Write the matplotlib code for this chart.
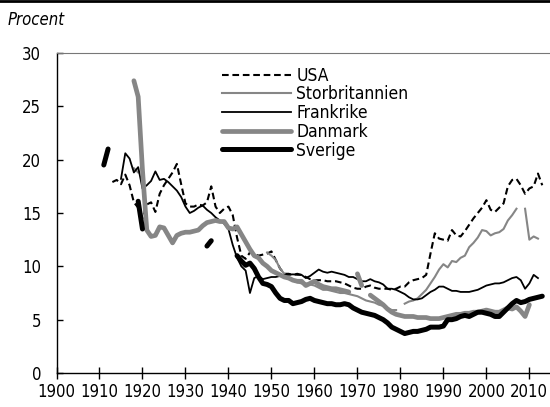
import matplotlib
matplotlib.use('Agg')
import matplotlib.pyplot as plt
from matplotlib.lines import Line2D
import numpy as np

# DejaVu Sans Condensed 近似原图的窄体字
plt.rcParams['font.family'] = ['DejaVu Sans']
plt.rcParams['font.stretch'] = 'condensed'

nan = np.nan

# ========================== 数据 ==========================
usa_years = list(range(1913, 2014))
usa = [17.9, 18.1, 17.7, 18.6, 17.6, 16.0, 15.5, 14.5, 15.8, 16.0,
       15.1, 16.8, 17.6, 18.2, 18.8, 19.6, 17.7, 15.9, 15.6, 15.6,
       15.8, 15.7, 16.0, 17.5, 15.6, 15.0, 15.4, 15.6, 14.8, 12.7,
       11.0, 10.7, 11.3, 11.2, 11.0, 11.1, 11.2, 11.4, 10.6, 9.8,
       9.3, 9.3, 9.2, 9.3, 9.2, 9.0, 8.8, 8.7, 8.7, 8.7,
       8.6, 8.6, 8.6, 8.5, 8.4, 8.2, 8.0, 7.9, 7.9, 8.1,
       8.2, 8.0, 7.9, 7.9, 7.9, 7.8, 7.9, 8.1, 8.1, 8.5,
       8.7, 8.8, 8.9, 9.2, 11.2, 13.1, 12.6, 12.5, 12.4, 13.4,
       12.9, 12.8, 13.3, 13.9, 14.5, 15.0, 15.5, 16.2, 15.3, 15.1,
       15.5, 15.9, 17.5, 18.1, 18.2, 17.6, 16.8, 17.3, 17.5, 18.7,
       17.6]

uk_years = [1918, 1919, 1920] + list(range(1949, 2013))
uk = [19.2, 18.8, nan,
      11.3, 11.0, 10.6, 9.8, 9.3, 8.9, 8.7, 8.5, 8.4, 8.4,
      8.3, 8.2, 8.0, 7.8, 7.8, 7.7, 7.6, 7.5, 7.5, 7.4,
      7.3, 7.2, 7.0, 6.8, 6.7, 6.6, 6.4, 6.3, 6.1, 5.9,
      5.9, nan, 6.5, 6.7, 6.8, 7.0, 7.4, 7.8, 8.4, 9.0,
      9.7, 10.2, 9.9, 10.5, 10.4, 10.8, 11.0, 11.8, 12.2, 12.7,
      13.4, 13.3, 12.9, 13.1, 13.2, 13.5, 14.3, 14.8, 15.4, nan,
      15.4, 12.5, 12.8, 12.6]

france_years = list(range(1915, 2013))
france = [18.2, 20.6, 20.1, 18.8, 19.3, 17.3, 17.6, 18.0, 18.9, 18.1,
          18.2, 17.9, 17.5, 17.1, 16.5, 15.6, 15.0, 15.2, 15.5, 15.7,
          15.3, 15.0, 14.6, 14.3, 14.0, 13.5, 12.0, 10.8, 10.0, 9.6,
          7.5, 8.9, 9.1, 8.8, 8.9, 9.0, 9.0, 9.1, 9.2, 9.2,
          9.25, 9.2, 9.2, 8.9, 9.1, 9.4, 9.7, 9.5, 9.4, 9.5,
          9.4, 9.3, 9.2, 9.0, 9.0, 8.8, 8.6, 8.6, 8.8, 8.6,
          8.5, 8.3, 7.9, 7.9, 7.8, 7.6, 7.4, 7.1, 6.9, 6.9,
          7.0, 7.3, 7.6, 7.8, 8.1, 8.1, 7.9, 7.7, 7.7, 7.6,
          7.6, 7.6, 7.7, 7.8, 8.0, 8.2, 8.3, 8.4, 8.4, 8.5,
          8.7, 8.9, 9.0, 8.7, 7.9, 8.4, 9.2, 8.9]

denmark_years = list(range(1918, 2011))
denmark = [27.4, 25.9, 19.0, 13.4, 12.8, 12.9, 13.7, 13.6, 12.9, 12.2,
           12.9, 13.1, 13.2, 13.2, 13.3, 13.4, 13.8, 14.1, 14.2, 14.3,
           14.2, 14.2, 13.6, 13.5, 13.7, 13.0, 12.3, 11.6, 11.0, 10.8,
           10.3, 10.0, 9.6, 9.4, 9.2, 9.0, 8.9, 8.7, 8.6, 8.6,
           8.2, 8.4, 8.6, 8.3, 8.1, 8.0, 7.9, 7.9, 7.8, 7.7,
           7.6, nan, 9.3, 8.2, nan, 7.3, 7.0, 6.7, 6.4, 6.0,
           5.7, 5.5, 5.4, 5.3, 5.3, 5.3, 5.2, 5.2, 5.2, 5.1,
           5.1, 5.1, 5.2, 5.3, 5.4, 5.5, 5.5, 5.6, 5.6, 5.7,
           5.7, 5.8, 5.9, 5.8, 5.7, 5.7, 5.9, 6.1, 6.0, 6.2,
           5.8, 5.3, 6.4]

sweden_years = [1911, 1912, 1913, 1919, 1920, 1921, 1935, 1936, 1937] + list(range(1942, 2014))
sweden = [19.5, 21.0, nan, 16.1, 13.5, nan, 11.9, 12.4, nan,
          11.0, 10.5, 10.1, 10.3, 9.8, 9.0, 8.4, 8.3, 8.1, 7.5,
          7.0, 6.8, 6.8, 6.5, 6.6, 6.7, 6.9, 7.0, 6.8, 6.7,
          6.6, 6.5, 6.5, 6.4, 6.4, 6.5, 6.4, 6.1, 5.9, 5.7,
          5.6, 5.5, 5.4, 5.2, 5.0, 4.7, 4.3, 4.1, 3.9, 3.7,
          3.8, 3.9, 3.9, 4.0, 4.1, 4.3, 4.3, 4.3, 4.4, 5.0,
          5.0, 5.1, 5.3, 5.4, 5.3, 5.5, 5.7, 5.7, 5.6, 5.5,
          5.3, 5.3, 5.7, 6.1, 6.5, 6.8, 6.6, 6.7, 6.9, 7.0,
          7.1, 7.2]

GRAY = '#868686'
FS = 12

fig = plt.figure(figsize=(5.5, 4.07), dpi=100)
ax = fig.add_axes([56.5 / 550, 34 / 407, 1 - 56.5 / 550, 320 / 407])

ax.plot(usa_years, usa, color='black', lw=1.5, dashes=(3.2, 1.8), label='USA')
ax.plot(uk_years, uk, color=GRAY, lw=1.5, label='Storbritannien')
ax.plot(france_years, france, color='black', lw=1.3, label='Frankrike')
ax.plot(denmark_years, denmark, color=GRAY, lw=3.4, solid_capstyle='round',
        solid_joinstyle='round', label='Danmark')
ax.plot(sweden_years, sweden, color='black', lw=3.6, solid_capstyle='round',
        solid_joinstyle='round', label='Sverige')

ax.set_xlim(1900, 2014.8)
ax.set_ylim(0, 30)
ax.set_xticks(range(1900, 2011, 10))
ax.set_yticks(range(0, 31, 5))

ax.spines['right'].set_visible(False)
ax.spines['top'].set_color('#777777')
ax.spines['left'].set_linewidth(1.0)
ax.spines['bottom'].set_linewidth(1.0)
ax.tick_params(axis='x', direction='inout', length=9, width=1.0, labelsize=FS, pad=3)
ax.tick_params(axis='y', direction='in', length=4.5, width=1.0, labelsize=FS, pad=11)

ax.legend(loc='upper left', bbox_to_anchor=(0.335, 0.957), frameon=False,
          fontsize=12.5, handlelength=4.0, handletextpad=0.3, labelspacing=0.04,
          borderpad=0, borderaxespad=0)

fig.text(8 / 550, 1 - 20 / 407, 'Procent', fontsize=FS, style='italic',
         va='center', ha='left')
fig.add_artist(Line2D([0, 1], [1 - 1 / 407, 1 - 1 / 407], color='black', lw=2))

fig.savefig('out.png', dpi=100)
